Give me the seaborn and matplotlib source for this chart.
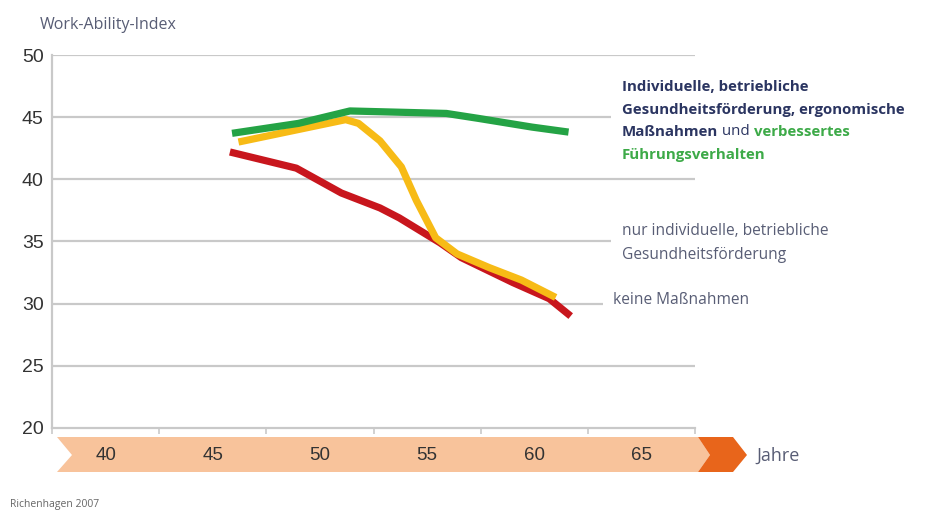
import matplotlib
matplotlib.use("Agg")
import matplotlib.pyplot as plt
from matplotlib.patches import Polygon
import seaborn as sns
import pandas as pd

# =========================
# Daten
# =========================
# keine Maßnahmen (rot)
red_age = [45.8, 48.9, 51.0, 52.8, 53.7, 55.6, 56.6, 59.0, 60.7, 61.7]
red_wai = [42.2, 40.9, 38.9, 37.7, 36.9, 34.9, 33.7, 31.7, 30.4, 29.0]

# nur individuelle, betriebliche Gesundheitsförderung (gelb)
yellow_age = [46.2, 51.2, 51.8, 52.8, 53.8, 54.5, 55.4, 56.4, 57.9, 59.4, 61.0]
yellow_wai = [43.0, 44.8, 44.5, 43.1, 41.0, 38.3, 35.3, 34.0, 32.9, 31.9, 30.5]

# alle Maßnahmen (grün)
green_age = [45.9, 49.0, 51.4, 55.9, 57.4, 59.9, 61.6]
green_wai = [43.7, 44.5, 45.5, 45.3, 44.9, 44.2, 43.8]

y_ticks = [20, 25, 30, 35, 40, 45, 50]
x_ticks = [40, 45, 50, 55, 60, 65]
x_bounds = [37.5, 42.5, 47.5, 52.5, 57.5, 62.5, 67.5]

series_names = ["keine", "nur_ind", "alle"]
series_colors = ["#c8161d", "#f7bb16", "#24a345"]

df = pd.concat([
    pd.DataFrame({"age": red_age, "wai": red_wai, "series": "keine"}),
    pd.DataFrame({"age": yellow_age, "wai": yellow_wai, "series": "nur_ind"}),
    pd.DataFrame({"age": green_age, "wai": green_wai, "series": "alle"}),
])

# =========================
# Stil
# =========================
sns.set_style("white")
plt.rcParams["font.family"] = ["Liberation Sans", "DejaVu Sans"]
plt.rcParams["lines.solid_capstyle"] = "butt"
plt.rcParams["lines.solid_joinstyle"] = "round"

W, H = 926, 512
fig = plt.figure(figsize=(W / 100, H / 100), dpi=100)
ax = fig.add_axes([52 / W, 1 - 428 / H, (695 - 52) / W, (428 - 55) / H])
ax.set_zorder(2)
ax.patch.set_alpha(0)

grid_col = "#c9c9c9"
ax.set_xlim(37.5, 67.5)
ax.set_ylim(20, 50)

# Gitterlinien (teilweise verkürzt wegen der Beschriftung)
for y in [50, 40, 25]:
    ax.hlines(y, 37.5, 67.5, color=grid_col, lw=1.6, zorder=1)
ax.hlines(45, 37.5, 63.6, color=grid_col, lw=1.6, zorder=1)
ax.hlines(35, 37.5, 63.6, color=grid_col, lw=1.6, zorder=1)
ax.hlines(30, 37.5, 63.2, color=grid_col, lw=1.6, zorder=1)

sns.lineplot(data=df, x="age", y="wai", hue="series", hue_order=series_names,
             palette=series_colors, linewidth=5.2, sort=False, legend=False,
             estimator=None, ax=ax, zorder=3)

for side in ["top", "right"]:
    ax.spines[side].set_visible(False)
for side in ["left", "bottom"]:
    ax.spines[side].set_color(grid_col)
    ax.spines[side].set_linewidth(1.6)

ax.set_yticks(y_ticks)
ax.set_yticklabels([str(v) for v in y_ticks], fontsize=14, color="#333333")
ax.tick_params(axis="y", length=0, pad=6)

ax.set_xticks(x_ticks)
ax.set_xticklabels([str(v) for v in x_ticks], fontsize=13.5, color="#333333")
ax.set_xticks(x_bounds, minor=True)
ax.tick_params(axis="x", which="major", length=0, pad=14)
ax.tick_params(axis="x", which="minor", length=4, width=1.2, color=grid_col,
               direction="out", bottom=True)
ax.set_xlabel("")
ax.set_ylabel("")

# Altersband (Pfeil)
def fx(x):
    return x / W

def fy(y):
    return 1 - y / H

light = Polygon([(fx(57), fy(437)), (fx(698), fy(437)), (fx(710), fy(455)),
                 (fx(698), fy(472)), (fx(57), fy(472)), (fx(72), fy(455))],
                closed=True, transform=fig.transFigure, facecolor="#f8c39b",
                edgecolor="none", zorder=0)
dark = Polygon([(fx(698), fy(437)), (fx(733), fy(437)), (fx(747), fy(455)),
                (fx(733), fy(472)), (fx(698), fy(472)), (fx(710), fy(455))],
               closed=True, transform=fig.transFigure, facecolor="#e8651b",
               edgecolor="none", zorder=0)
fig.patches.extend([light, dark])

# Texte
txt_col = "#585d75"
navy = "#2b3561"
green_txt = "#3daa48"
sans = ["Open Sans", "DejaVu Sans"]

fig.text(fx(40), fy(25), "Work-Ability-Index", fontsize=11.5, color=txt_col,
         va="center", family=sans)
fig.text(fx(756), fy(456), "Jahre", fontsize=13, color=txt_col, va="center", family=sans)
fig.text(fx(10), fy(505), "Richenhagen 2007", fontsize=7.5, color="#666666",
         va="center", family=sans)

fs = 10.8
fig.text(fx(622), fy(87), "Individuelle, betriebliche", fontsize=fs, weight="bold",
         color=navy, va="center", family=sans)
fig.text(fx(622), fy(110), "Gesundheitsförderung, ergonomische", fontsize=fs,
         weight="bold", color=navy, va="center", family=sans)
t1 = fig.text(fx(622), fy(132), "Maßnahmen", fontsize=fs, weight="bold",
              color=navy, va="center", family=sans)
t2 = ax.annotate(" und ", xy=(1, 0), xycoords=t1, va="bottom", ha="left",
                 fontsize=fs, color=navy, family=sans, annotation_clip=False)
ax.annotate("verbessertes", xy=(1, 0), xycoords=t2, va="bottom", ha="left",
            fontsize=fs, weight="bold", color=green_txt, family=sans,
            annotation_clip=False)
fig.text(fx(622), fy(155), "Führungsverhalten", fontsize=fs, weight="bold",
         color=green_txt, va="center", family=sans)

fs2 = 11.2
fig.text(fx(622), fy(231), "nur individuelle, betriebliche", fontsize=fs2,
         color=txt_col, va="center", family=sans)
fig.text(fx(622), fy(255), "Gesundheitsförderung", fontsize=fs2,
         color=txt_col, va="center", family=sans)
fig.text(fx(613), fy(300), "keine Maßnahmen", fontsize=fs2,
         color=txt_col, va="center", family=sans)

fig.savefig("out.png", dpi=100)
